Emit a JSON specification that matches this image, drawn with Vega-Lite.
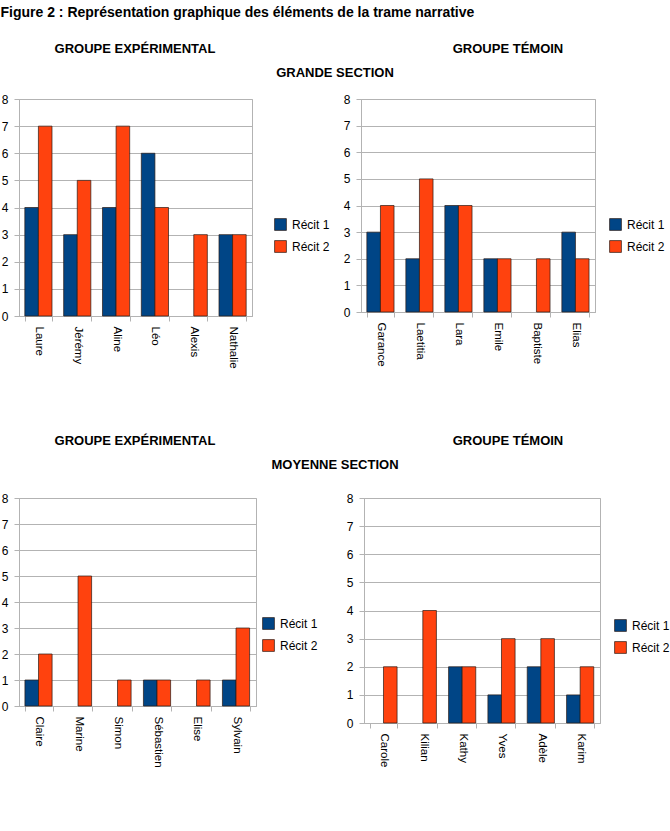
{
  "$schema": "https://vega.github.io/schema/vega-lite/v6.json",
  "padding": {"left": 0, "top": 6, "right": 0, "bottom": 0},
  "title": {"text": "Figure 2 : Représentation graphique des éléments de la trame narrative", "anchor": "start", "font": "Liberation Sans", "fontSize": 14, "fontWeight": "bold", "color": "#000000", "offset": 6},
  "spacing": 10,
  "resolve": {"scale": {"color": "independent"}, "legend": {"color": "independent"}},
  "datasets": {
    "gs_exp": [
      {"eleve": "Laure", "recit": "Récit 1", "score": 4}, {"eleve": "Laure", "recit": "Récit 2", "score": 7},
      {"eleve": "Jérémy", "recit": "Récit 1", "score": 3}, {"eleve": "Jérémy", "recit": "Récit 2", "score": 5},
      {"eleve": "Aline", "recit": "Récit 1", "score": 4}, {"eleve": "Aline", "recit": "Récit 2", "score": 7},
      {"eleve": "Léo", "recit": "Récit 1", "score": 6}, {"eleve": "Léo", "recit": "Récit 2", "score": 4},
      {"eleve": "Alexis", "recit": "Récit 2", "score": 3},
      {"eleve": "Nathalie", "recit": "Récit 1", "score": 3}, {"eleve": "Nathalie", "recit": "Récit 2", "score": 3}
    ],
    "gs_tem": [
      {"eleve": "Garance", "recit": "Récit 1", "score": 3}, {"eleve": "Garance", "recit": "Récit 2", "score": 4},
      {"eleve": "Laetitia", "recit": "Récit 1", "score": 2}, {"eleve": "Laetitia", "recit": "Récit 2", "score": 5},
      {"eleve": "Lara", "recit": "Récit 1", "score": 4}, {"eleve": "Lara", "recit": "Récit 2", "score": 4},
      {"eleve": "Emile", "recit": "Récit 1", "score": 2}, {"eleve": "Emile", "recit": "Récit 2", "score": 2},
      {"eleve": "Baptiste", "recit": "Récit 2", "score": 2},
      {"eleve": "Elias", "recit": "Récit 1", "score": 3}, {"eleve": "Elias", "recit": "Récit 2", "score": 2}
    ],
    "ms_exp": [
      {"eleve": "Claire", "recit": "Récit 1", "score": 1}, {"eleve": "Claire", "recit": "Récit 2", "score": 2},
      {"eleve": "Marine", "recit": "Récit 2", "score": 5},
      {"eleve": "Simon", "recit": "Récit 2", "score": 1},
      {"eleve": "Sébastien", "recit": "Récit 1", "score": 1}, {"eleve": "Sébastien", "recit": "Récit 2", "score": 1},
      {"eleve": "Elise", "recit": "Récit 2", "score": 1},
      {"eleve": "Sylvain", "recit": "Récit 1", "score": 1}, {"eleve": "Sylvain", "recit": "Récit 2", "score": 3}
    ],
    "ms_tem": [
      {"eleve": "Carole", "recit": "Récit 2", "score": 2},
      {"eleve": "Kilian", "recit": "Récit 2", "score": 4},
      {"eleve": "Kathy", "recit": "Récit 1", "score": 2}, {"eleve": "Kathy", "recit": "Récit 2", "score": 2},
      {"eleve": "Yves", "recit": "Récit 1", "score": 1}, {"eleve": "Yves", "recit": "Récit 2", "score": 3},
      {"eleve": "Adèle", "recit": "Récit 1", "score": 2}, {"eleve": "Adèle", "recit": "Récit 2", "score": 3},
      {"eleve": "Karim", "recit": "Récit 1", "score": 1}, {"eleve": "Karim", "recit": "Récit 2", "score": 2}
    ],
    "head1": [
      {"label": "GROUPE EXPÉRIMENTAL", "pos": "g", "ligne": "1"},
      {"label": "GROUPE TÉMOIN", "pos": "d", "ligne": "1"}
    ],
    "sec1": [{"label": "GRANDE SECTION", "pos": "c", "ligne": "2"}],
    "sec2": [{"label": "MOYENNE SECTION", "pos": "c", "ligne": "2"}]
  },
  "vconcat": [
    {
      "width": 632, "height": 56,
      "view": {"stroke": null},
      "resolve": {"scale": {"x": "independent"}},
      "encoding": {
        "y": {"field": "ligne", "type": "nominal", "scale": {"type": "point", "domain": ["1", "2"], "range": [23, 47], "padding": 0}, "axis": null},
        "text": {"field": "label"}
      },
      "layer": [
        {"data": {"name": "head1"}, "mark": {"type": "text", "font": "Liberation Sans", "fontSize": 13, "fontWeight": "bold", "color": "#000000"},
         "encoding": {"x": {"field": "pos", "type": "nominal", "scale": {"type": "point", "domain": ["g", "d"], "range": [116, 489], "padding": 0}, "axis": null}}},
        {"data": {"name": "sec1"}, "mark": {"type": "text", "font": "Liberation Sans", "fontSize": 13, "fontWeight": "bold", "color": "#000000"},
         "encoding": {"x": {"field": "pos", "type": "nominal", "scale": {"type": "point", "domain": ["c"]}, "axis": null}}}
      ]
    },
    {
      "spacing": 11,
      "resolve": {"scale": {"color": "independent"}, "legend": {"color": "independent"}},
      "hconcat": [
        {
          "width": 233, "height": 217,
          "data": {"name": "gs_exp"},
          "mark": {"type": "bar", "stroke": "#2a1a14", "strokeWidth": 0.7},
          "encoding": {
            "x": {"field": "eleve", "type": "nominal", "sort": null, "scale": {"paddingInner": 0.3, "paddingOuter": 0.15}, "axis": {"title": null}},
            "xOffset": {"field": "recit", "type": "nominal", "scale": {"domain": ["Récit 1", "Récit 2"]}},
            "y": {"field": "score", "type": "quantitative", "scale": {"domain": [0, 8]}, "axis": {"title": null, "minExtent": 18}},
            "color": {"field": "recit", "type": "nominal", "scale": {"domain": ["Récit 1", "Récit 2"], "range": ["#004586", "#ff420e"]}, "legend": {"orient": "none", "legendX": 255, "legendY": 119}}
          }
        },
        {
          "width": 234, "height": 213,
          "data": {"name": "gs_tem"},
          "mark": {"type": "bar", "stroke": "#2a1a14", "strokeWidth": 0.7},
          "encoding": {
            "x": {"field": "eleve", "type": "nominal", "sort": null, "scale": {"paddingInner": 0.3, "paddingOuter": 0.15}, "axis": {"title": null}},
            "xOffset": {"field": "recit", "type": "nominal", "scale": {"domain": ["Récit 1", "Récit 2"]}},
            "y": {"field": "score", "type": "quantitative", "scale": {"domain": [0, 8]}, "axis": {"title": null}},
            "color": {"field": "recit", "type": "nominal", "scale": {"domain": ["Récit 1", "Récit 2"], "range": ["#004586", "#ff420e"]}, "legend": {"orient": "none", "legendX": 248, "legendY": 119}}
          }
        }
      ]
    },
    {
      "width": 632, "height": 102,
      "view": {"stroke": null},
      "resolve": {"scale": {"x": "independent"}},
      "encoding": {
        "y": {"field": "ligne", "type": "nominal", "scale": {"type": "point", "domain": ["1", "2"], "range": [62, 86], "padding": 0}, "axis": null},
        "text": {"field": "label"}
      },
      "layer": [
        {"data": {"name": "head1"}, "mark": {"type": "text", "font": "Liberation Sans", "fontSize": 13, "fontWeight": "bold", "color": "#000000"},
         "encoding": {"x": {"field": "pos", "type": "nominal", "scale": {"type": "point", "domain": ["g", "d"], "range": [116, 489], "padding": 0}, "axis": null}}},
        {"data": {"name": "sec2"}, "mark": {"type": "text", "font": "Liberation Sans", "fontSize": 13, "fontWeight": "bold", "color": "#000000"},
         "encoding": {"x": {"field": "pos", "type": "nominal", "scale": {"type": "point", "domain": ["c"]}, "axis": null}}}
      ]
    },
    {
      "spacing": 26,
      "resolve": {"scale": {"color": "independent"}, "legend": {"color": "independent"}},
      "hconcat": [
        {
          "width": 237, "height": 208,
          "data": {"name": "ms_exp"},
          "mark": {"type": "bar", "stroke": "#2a1a14", "strokeWidth": 0.7},
          "encoding": {
            "x": {"field": "eleve", "type": "nominal", "sort": null, "scale": {"paddingInner": 0.3, "paddingOuter": 0.15}, "axis": {"title": null}},
            "xOffset": {"field": "recit", "type": "nominal", "scale": {"domain": ["Récit 1", "Récit 2"]}},
            "y": {"field": "score", "type": "quantitative", "scale": {"domain": [0, 8]}, "axis": {"title": null, "minExtent": 18}},
            "color": {"field": "recit", "type": "nominal", "scale": {"domain": ["Récit 1", "Récit 2"], "range": ["#004586", "#ff420e"]}, "legend": {"orient": "none", "legendX": 243, "legendY": 119}}
          }
        },
        {
          "width": 236, "height": 225,
          "data": {"name": "ms_tem"},
          "mark": {"type": "bar", "stroke": "#2a1a14", "strokeWidth": 0.7},
          "encoding": {
            "x": {"field": "eleve", "type": "nominal", "sort": null, "scale": {"paddingInner": 0.3, "paddingOuter": 0.15}, "axis": {"title": null}},
            "xOffset": {"field": "recit", "type": "nominal", "scale": {"domain": ["Récit 1", "Récit 2"]}},
            "y": {"field": "score", "type": "quantitative", "scale": {"domain": [0, 8]}, "axis": {"title": null}},
            "color": {"field": "recit", "type": "nominal", "scale": {"domain": ["Récit 1", "Récit 2"], "range": ["#004586", "#ff420e"]}, "legend": {"orient": "none", "legendX": 250, "legendY": 121}}
          }
        }
      ]
    }
  ],
  "config": {
    "view": {"stroke": "#b3b3b3"},
    "font": "Liberation Sans",
    "axis": {"labelFont": "Liberation Sans", "labelColor": "#000000", "labelFontSize": 12, "domainColor": "#b3b3b3", "tickColor": "#b3b3b3", "gridColor": "#b3b3b3", "tickSize": 5},
    "axisX": {"labelAngle": 90, "labelFontSize": 11.5, "labelPadding": 5, "grid": false, "tickBand": "extent", "labelAlign": "left", "labelBaseline": "middle"},
    "axisY": {"values": [0, 1, 2, 3, 4, 5, 6, 7, 8], "labelPadding": 6, "minExtent": 0},
    "legend": {"title": null, "symbolType": "square", "symbolSize": 140, "symbolStrokeColor": "#2a1a14", "symbolStrokeWidth": 0.7, "labelFont": "Liberation Sans", "labelFontSize": 12, "labelColor": "#000000", "rowPadding": 7, "labelOffset": 5}
  }
}
